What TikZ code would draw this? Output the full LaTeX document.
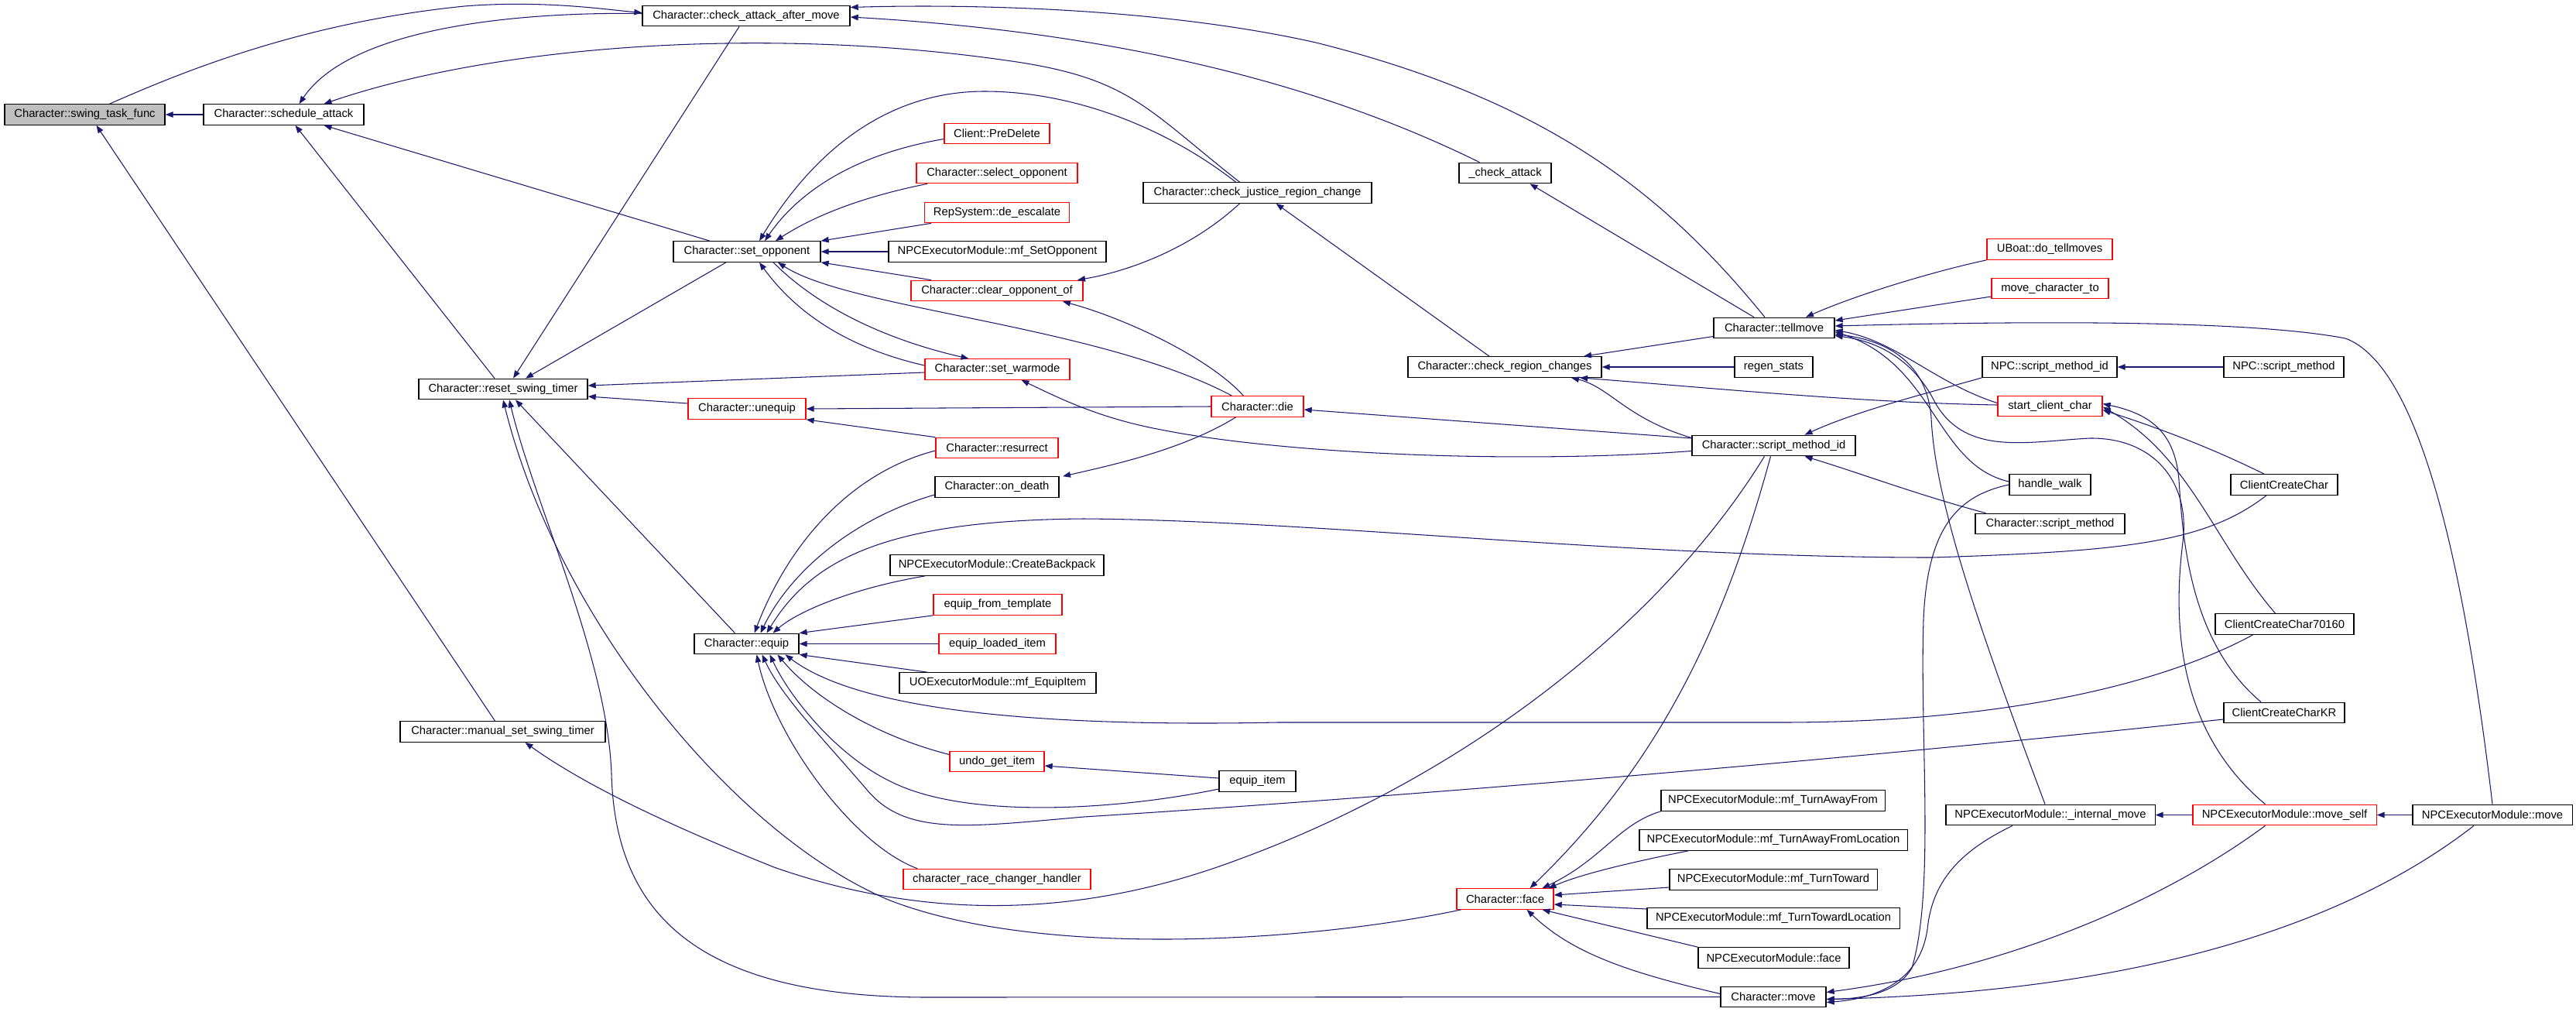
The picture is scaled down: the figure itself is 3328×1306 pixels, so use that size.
\documentclass[tikz,border=0pt]{standalone}
\usepackage{fontspec}
\setmainfont{Liberation Sans}
\usetikzlibrary{arrows.meta}
\definecolor{edgec}{HTML}{191970}
\definecolor{grayfill}{HTML}{BFBFBF}
\begin{document}
\begin{tikzpicture}[x=0.01cm,y=-0.01cm,
  box/.style={draw=black, line width=0.35pt, minimum height=0.265cm, inner sep=0pt, font=\fontsize{4.2}{5}\selectfont},
  rbox/.style={box, draw=red},
  e/.style={draw=edgec, line width=0.3pt, -{Triangle[length=0.1cm,width=0.075cm]}}]
\useasboundingbox (0,0) rectangle (3328,1306);
\fill[white] (0,0) rectangle (3328,1306);
% nodes
\node[box, fill=grayfill, minimum width=2.07cm] (stf) at (109.5,148) {Character::swing\_task\_func};
\node[box, minimum width=2.07cm] (sa) at (366.5,148) {Character::schedule\_attack};
\node[box, minimum width=2.68cm] (cam) at (964,20.5) {Character::check\_attack\_after\_move};
\node[rbox, minimum width=1.36cm] (pd) at (1288,172.5) {Client::PreDelete};
\node[rbox, minimum width=2.08cm] (selop) at (1288,223.5) {Character::select\_opponent};
\node[rbox, minimum width=1.87cm] (deesc) at (1288,274.5) {RepSystem::de\_escalate};
\node[box, minimum width=1.90cm] (setop) at (965,325) {Character::set\_opponent};
\node[box, minimum width=2.81cm] (mfso) at (1288.5,325) {NPCExecutorModule::mf\_SetOpponent};
\node[rbox, minimum width=2.22cm] (clop) at (1288,375.5) {Character::clear\_opponent\_of};
\node[box, minimum width=2.95cm] (cjrc) at (1624.5,249) {Character::check\_justice\_region\_change};
\node[box, minimum width=1.19cm] (chka) at (1944.5,223.5) {\_check\_attack};
\node[box, minimum width=1.56cm] (tell) at (2292,423.5) {Character::tellmove};
\node[rbox, minimum width=1.62cm] (uboat) at (2648,322) {UBoat::do\_tellmoves};
\node[rbox, minimum width=1.51cm] (mct) at (2648.5,372.5) {move\_character\_to};
\node[box, minimum width=2.18cm] (rst) at (650,502.5) {Character::reset\_swing\_timer};
\node[rbox, minimum width=1.87cm] (warm) at (1288.5,477) {Character::set\_warmode};
\node[rbox, minimum width=1.52cm] (uneq) at (965,528) {Character::unequip};
\node[rbox, minimum width=1.19cm] (die) at (1624.5,525) {Character::die};
\node[rbox, minimum width=1.58cm] (res) at (1288,578.5) {Character::resurrect};
\node[box, minimum width=1.60cm] (ond) at (1288,629) {Character::on\_death};
\node[box, minimum width=2.76cm] (cbp) at (1288,730) {NPCExecutorModule::CreateBackpack};
\node[rbox, minimum width=1.66cm] (eft) at (1289,781) {equip\_from\_template};
\node[rbox, minimum width=1.51cm] (eli) at (1288.5,831.5) {equip\_loaded\_item};
\node[box, minimum width=1.35cm] (equip) at (964.5,831.5) {Character::equip};
\node[box, minimum width=2.54cm] (mfei) at (1289,882) {UOExecutorModule::mf\_EquipItem};
\node[rbox, minimum width=1.22cm] (ugi) at (1288,983.5) {undo\_get\_item};
\node[box, minimum width=0.99cm] (eqi) at (1624.5,1009) {equip\_item};
\node[rbox, minimum width=2.42cm] (crch) at (1288,1135.5) {character\_race\_changer\_handler};
\node[box, minimum width=2.65cm] (mst) at (649.5,945) {Character::manual\_set\_swing\_timer};
\node[box, minimum width=2.50cm] (crc) at (1944,474) {Character::check\_region\_changes};
\node[box, minimum width=1.01cm] (regen) at (2291.5,474) {regen\_stats};
\node[box, minimum width=2.11cm] (smid) at (2291.5,575.5) {Character::script\_method\_id};
\node[box, minimum width=1.74cm] (npcsmid) at (2648,474) {NPC::script\_method\_id};
\node[box, minimum width=1.55cm] (npcsm) at (2950.5,474) {NPC::script\_method};
\node[rbox, minimum width=1.35cm] (scc) at (2648.5,524.5) {start\_client\_char};
\node[box, minimum width=1.05cm] (hw) at (2648.5,626) {handle\_walk};
\node[box, minimum width=1.93cm] (csm) at (2648.5,676.5) {Character::script\_method};
\node[box, minimum width=1.38cm] (ccc) at (2951,626) {ClientCreateChar};
\node[box, minimum width=1.79cm] (ccc7) at (2951.5,806) {ClientCreateChar70160};
\node[box, minimum width=1.56cm] (ccckr) at (2951,920.5) {ClientCreateCharKR};
\node[box, minimum width=2.70cm] (im) at (2649,1052.5) {NPCExecutorModule::\_internal\_move};
\node[rbox, minimum width=2.37cm] (ms) at (2951.5,1052.5) {NPCExecutorModule::move\_self};
\node[box, minimum width=2.06cm] (nmove) at (3220,1052.5) {NPCExecutorModule::move};
\node[rbox, minimum width=1.25cm] (face) at (1944.5,1161) {Character::face};
\node[box, minimum width=2.89cm] (tafrom) at (2290.5,1034) {NPCExecutorModule::mf\_TurnAwayFrom};
\node[box, minimum width=3.46cm] (tafl) at (2291,1085) {NPCExecutorModule::mf\_TurnAwayFromLocation};
\node[box, minimum width=2.68cm] (tt) at (2291,1136) {NPCExecutorModule::mf\_TurnToward};
\node[box, minimum width=3.26cm] (ttl) at (2291,1186) {NPCExecutorModule::mf\_TurnTowardLocation};
\node[box, minimum width=1.95cm] (nface) at (2291.5,1237) {NPCExecutorModule::face};
\node[box, minimum width=1.36cm] (move) at (2291,1287.5) {Character::move};
% edges
\draw[e] (sa.west) -- (stf.east);
\draw[e] ([shift={(-10,0)}]mst.north) -- ([shift={(15,0)}]stf.south);
\draw[e] ([shift={(32,0)}]stf.north) .. controls (220,100) and (380,30) .. (600,8) .. controls (700,0) and (780,12) .. ([shift={(0,-4)}]cam.west);
\draw[e] ([shift={(0,-3)}]cam.west) .. controls (650,15) and (450,40) .. ([shift={(20,0)}]sa.north);
\draw[e] ([shift={(-23,0)}]cjrc.north) .. controls (1480,140) and (1460,100) .. (1300,78) .. controls (1000,35) and (650,55) .. ([shift={(52,0)}]sa.north);
\draw[e] ([shift={(-48,0)}]setop.north) -- ([shift={(52,0)}]sa.south);
\draw[e] ([shift={(-11,0)}]rst.north) -- ([shift={(15,0)}]sa.south);
\draw[e] ([shift={(-9,0)}]cam.south) -- ([shift={(13,0)}]rst.north);
\draw[e] ([shift={(-27,0)}]setop.south) -- ([shift={(29,0)}]rst.north);
\draw[e] ([shift={(-12,0)}]tell.north) .. controls (2150,250) and (2000,130) .. (1700,55) .. controls (1500,10) and (1250,5) .. ([shift={(0,-11)}]cam.east);
\draw[e] ([shift={(-33,0)}]chka.north) .. controls (1750,130) and (1500,45) .. ([shift={(0,1.5)}]cam.east);
\draw[e] ([shift={(-26,0)}]tell.north) -- ([shift={(32,0)}]chka.south);
\draw[e] ([shift={(-28,0)}]cjrc.north) .. controls (1500,160) and (1380,118) .. (1272,118) .. controls (1120,118) and (1030,230) .. ([shift={(16,0)}]setop.north);
\draw[e] ([shift={(0,7)}]pd.west) .. controls (1100,200) and (1030,250) .. ([shift={(23,0)}]setop.north);
\draw[e] ([shift={(-90,0)}]selop.south) .. controls (1110,255) and (1050,280) .. ([shift={(37,0)}]setop.north);
\draw[e] ([shift={(-85,0)}]deesc.south) -- (setop.north east);
\draw[e] (mfso.west) -- (setop.east);
\draw[e] ([shift={(-85,0)}]clop.north) -- (setop.south east);
\draw[e] ([shift={(0,-5)}]warm.west) .. controls (1120,455) and (1040,420) .. ([shift={(16,0)}]setop.south);
\draw[e] ([shift={(34,0)}]setop.south) .. controls (1060,400) and (1150,440) .. ([shift={(-37,0)}]warm.north);
\draw[e] ([shift={(-33,0)}]die.north) .. controls (1420,420) and (1100,400) .. ([shift={(40,0)}]setop.south);
\draw[e] ([shift={(-23,0)}]cjrc.south) .. controls (1540,320) and (1460,350) .. ([shift={(104,0)}]clop.north);
\draw[e] ([shift={(-18,0)}]die.north) .. controls (1560,460) and (1450,410) .. ([shift={(85,0)}]clop.south);
\draw[e] ([shift={(-20,0)}]crc.north) -- ([shift={(24,0)}]cjrc.south);
\draw[e] ([shift={(0,7)}]smid.west) .. controls (1950,600) and (1650,585) .. (1500,555) .. controls (1420,540) and (1370,515) .. ([shift={(31,0)}]warm.south);
\draw[e] ([shift={(0,4)}]warm.west) -- ([shift={(0,-4.5)}]rst.east);
\draw[e] ([shift={(0,-7)}]uneq.west) -- ([shift={(0,9.5)}]rst.east);
\draw[e] (die.west) -- (uneq.east);
\draw[e] (res.north west) -- (uneq.south east);
\draw[e] ([shift={(0,3.5)}]res.west) .. controls (1100,610) and (1020,700) .. ([shift={(10,0)}]equip.north);
\draw[e] ([shift={(0,10)}]ond.west) .. controls (1100,670) and (1020,740) .. ([shift={(18,0)}]equip.north);
\draw[e] ([shift={(-28,0)}]die.south) .. controls (1530,580) and (1440,600) .. ([shift={(85,0)}]ond.north);
\draw[e] ([shift={(-23,0)}]ccc.south) .. controls (2850,700) and (2750,712) .. (2496,720) .. controls (2100,720) and (1700,672) .. (1400,670) .. controls (1150,672) and (1050,720) .. ([shift={(26,0)}]equip.north);
\draw[e] ([shift={(-93,0)}]cbp.south) .. controls (1100,760) and (1030,790) .. ([shift={(34,0)}]equip.north);
\draw[e] (eft.south west) -- (equip.north east);
\draw[e] (eli.west) -- (equip.east);
\draw[e] ([shift={(-91,0)}]mfei.north) -- (equip.south east);
\draw[e] ([shift={(0,-9)}]ugi.west) .. controls (1130,950) and (1050,900) .. ([shift={(40,0)}]equip.south);
\draw[e] ([shift={(0,10)}]eqi.west) .. controls (1450,1045) and (1250,1060) .. (1150,1009) .. controls (1080,975) and (1020,900) .. ([shift={(30,0)}]equip.south);
\draw[e] ([shift={(0,-4)}]eqi.west) -- ([shift={(0,5.5)}]ugi.east);
\draw[e] ([shift={(0,8.5)}]ccckr.west) .. controls (2400,980) and (1800,1030) .. (1400,1055) .. controls (1250,1068) and (1170,1080) .. (1120,1020) .. controls (1060,950) and (1010,900) .. ([shift={(20,0)}]equip.south);
\draw[e] ([shift={(-103,0)}]crch.north) .. controls (1100,1090) and (1000,950) .. ([shift={(13,0)}]equip.south);
\draw[e] ([shift={(-41,0)}]ccc7.south) .. controls (2800,880) and (2600,933) .. (2300,933) -- (1650,933) .. controls (1300,940) and (1100,910) .. ([shift={(50,0)}]equip.south);
\draw[e] ([shift={(-12,0)}]smid.south) .. controls (2150,800) and (1900,1000) .. (1600,1110) .. controls (1400,1185) and (1200,1190) .. (1000,1120) .. controls (850,1060) and (750,1010) .. ([shift={(29,0)}]mst.south);
\draw[e] ([shift={(-4,0)}]smid.south) .. controls (2230,800) and (2150,980) .. ([shift={(32,0)}]face.north);
\draw[e] (move.west) -- (1200,1288) .. controls (900,1288) and (795,1180) .. (790,1000) .. controls (785,850) and (690,650) .. ([shift={(8,0)}]rst.south);
\draw[e] ([shift={(-15,0)}]equip.north) -- ([shift={(16,0)}]rst.south);
\draw[e] ([shift={(-57,0)}]face.south) .. controls (1700,1215) and (1350,1240) .. (1150,1163) .. controls (950,1080) and (720,800) .. (rst.south);
\draw[e] (regen.west) -- (crc.east);
\draw[e] ([shift={(0,11)}]tell.west) -- ([shift={(102,0)}]crc.north);
\draw[e] ([shift={(0,-10)}]smid.west) .. controls (2100,540) and (2080,500) .. ([shift={(86,0)}]crc.south);
\draw[e] ([shift={(0,-1.5)}]scc.west) .. controls (2400,520) and (2200,500) .. ([shift={(97,0)}]crc.south);
\draw[e] (npcsmid.south west) .. controls (2500,505) and (2400,530) .. ([shift={(40,0)}]smid.north);
\draw[e] ([shift={(-83,0)}]csm.north) .. controls (2480,640) and (2400,610) .. ([shift={(40,0)}]smid.south);
\draw[e] ([shift={(0,-9.5)}]smid.west) -- ([shift={(0,4)}]die.east);
\draw[e] (npcsm.west) -- (npcsmid.east);
\draw[e] (uboat.south west) .. controls (2500,350) and (2400,380) .. ([shift={(41,0)}]tell.north);
\draw[e] ([shift={(0,10.5)}]mct.west) -- ([shift={(0,-9.5)}]tell.east);
\draw[e] (nmove.north) .. controls (3180,700) and (3120,470) .. (3030,437) .. controls (2900,412) and (2600,415) .. ([shift={(0,-2.5)}]tell.east);
\draw[e] ([shift={(0,-4)}]scc.west) .. controls (2500,495) and (2450,440) .. ([shift={(0,3)}]tell.east);
\draw[e] ([shift={(0,-4)}]hw.west) .. controls (2500,600) and (2500,470) .. ([shift={(0,5)}]tell.east);
\draw[e] ([shift={(-7,0)}]im.north) .. controls (2560,820) and (2500,650) .. (2495,540) .. controls (2490,470) and (2440,440) .. ([shift={(0,8)}]tell.east);
\draw[e] ([shift={(-25,0)}]ms.north) .. controls (2820,950) and (2805,820) .. (2820,700) .. controls (2830,620) and (2780,565) .. (2700,566) .. controls (2620,570) and (2540,590) .. (2500,520) .. controls (2470,460) and (2420,440) .. ([shift={(0,10)}]tell.east);
\draw[e] (hw.west) .. controls (2530,640) and (2490,680) .. (2485,800) .. controls (2480,950) and (2500,1150) .. (2470,1250) .. controls (2450,1285) and (2400,1290) .. ([shift={(0,3)}]move.east);
\draw[e] ([shift={(-25,0)}]ms.south) .. controls (2800,1160) and (2600,1250) .. ([shift={(0,-6)}]move.east);
\draw[e] ([shift={(-24,0)}]nmove.south) .. controls (3050,1180) and (2800,1280) .. ([shift={(0,3)}]move.east);
\draw[e] ([shift={(-49,0)}]im.south) .. controls (2530,1100) and (2496,1140) .. (2490,1200) .. controls (2480,1270) and (2420,1290) .. ([shift={(0,7)}]move.east);
\draw[e] (ms.west) -- (im.east);
\draw[e] (nmove.west) -- (ms.east);
\draw[e] (tafrom.south west) .. controls (2090,1065) and (2070,1110) .. ([shift={(48,0)}]face.north);
\draw[e] ([shift={(-110,0)}]tafl.south) .. controls (2100,1115) and (2040,1130) .. ([shift={(56,0)}]face.north);
\draw[e] ([shift={(0,10)}]tt.west) -- ([shift={(0,-5)}]face.east);
\draw[e] ([shift={(0,-12)}]ttl.west) -- ([shift={(0,7)}]face.east);
\draw[e] (nface.north west) -- ([shift={(48,0)}]face.south);
\draw[e] ([shift={(0,-4)}]move.west) .. controls (2100,1255) and (2030,1230) .. ([shift={(28,0)}]face.south);
\draw[e] ([shift={(-26,0)}]ccc.north) .. controls (2850,575) and (2780,550) .. ([shift={(0,5)}]scc.east);
\draw[e] ([shift={(-12,0)}]ccc7.north) .. controls (2860,700) and (2830,590) .. ([shift={(0,1)}]scc.east);
\draw[e] ([shift={(-30,0)}]ccckr.north) .. controls (2830,830) and (2820,700) .. (2815,620) .. controls (2810,560) and (2780,535) .. ([shift={(0,-3)}]scc.east);
\end{tikzpicture}
\end{document}
